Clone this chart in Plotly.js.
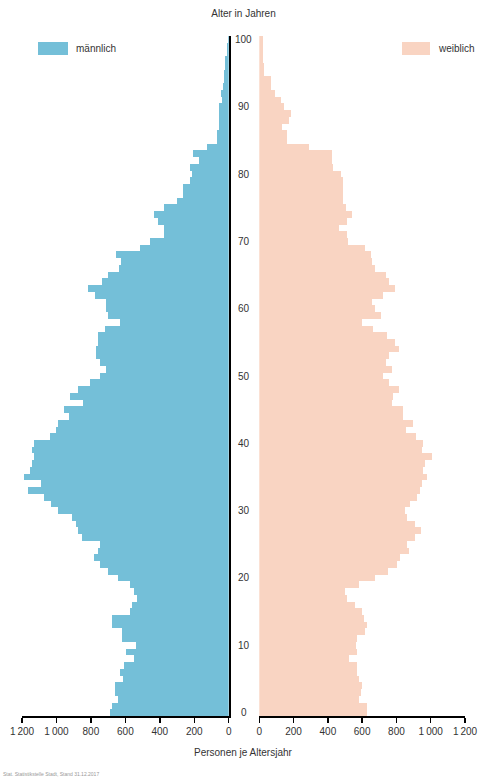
<!DOCTYPE html>
<html>
<head>
<meta charset="utf-8">
<script src="https://cdn.plot.ly/plotly-3.0.1.min.js"></script>
<style>
  html, body { margin: 0; padding: 0; background: #ffffff; }
  #chart { width: 478px; height: 779px; }
</style>
</head>
<body>
<div id="chart"></div>
<script>
// Ages 0..100
const ages = Array.from({length: 101}, (_, i) => i);

// Persons per age year, male (index = age)
const maleValues = [
  688, 678, 643, 663, 663, 614, 630, 610, 550, 595,
  540, 618, 618, 676, 676, 571, 562, 530, 550, 575,
  643, 701, 750, 783, 760, 750, 851, 876, 886, 911,
  993, 1032, 1074, 1168, 1088, 1191, 1154, 1144, 1129, 1144,
  1133, 1040, 1003, 991, 925, 958, 843, 921, 874, 804,
  746, 715, 750, 769, 769, 756, 756, 721, 633, 701,
  715, 715, 779, 818, 734, 698, 637, 624, 653, 517,
  455, 375, 375, 410, 433, 375, 303, 268, 268, 222,
  215, 222, 175, 210, 128, 70, 68, 55, 58, 58,
  58, 41, 47, 35, 27, 27, 20, 19, 10, 8,
  5
];

// Persons per age year, female (index = age)
const femaleValues = [
  626, 626, 584, 591, 597, 584, 568, 568, 525, 568,
  564, 572, 617, 626, 611, 601, 558, 513, 500, 584,
  675, 749, 805, 821, 873, 864, 908, 943, 908, 860,
  850, 879, 922, 938, 947, 980, 957, 967, 1006, 947,
  957, 912, 854, 899, 840, 840, 772, 782, 817, 757,
  724, 772, 737, 759, 817, 792, 747, 665, 597, 710,
  675, 655, 724, 792, 757, 737, 675, 656, 652, 617,
  519, 510, 465, 513, 539, 506, 490, 490, 486, 486,
  477, 432, 422, 422, 290, 163, 163, 130, 173, 183,
  146, 124, 91, 68, 68, 29, 29, 23, 20, 19,
  19
];

// Tick definitions
const xTickVals = [0, 200, 400, 600, 800, 1000, 1200];
const xTickText = ['0', '200', '400', '600', '800', '1\u2009000', '1\u2009200'];
const ageTicks = [0, 10, 20, 30, 40, 50, 60, 70, 80, 90, 100];

const seriesNames = ['männlich', 'weiblich'];
const colMale = '#74bfd8';
const colFemale = '#f9d4c2';

const textColor = '#333333';
const fontFamily = 'Liberation Sans, Arial, Helvetica, sans-serif';

const traces = [
  {
    type: 'bar', orientation: 'h', name: seriesNames[0],
    x: maleValues, y: ages, xaxis: 'x', yaxis: 'y',
    marker: {color: colMale, line: {width: 0}},
    hoverinfo: 'x+y', showlegend: false
  },
  {
    type: 'bar', orientation: 'h', name: seriesNames[1],
    x: femaleValues, y: ages, xaxis: 'x2', yaxis: 'y',
    marker: {color: colFemale, line: {width: 0}},
    hoverinfo: 'x+y', showlegend: false
  }
];

const W = 478, H = 779;
const mL = 22, mR = 13, mT = 36, mB = 63;
const pw = W - mL - mR, ph = H - mT - mB;
const px = v => (v - mL) / pw;          // pixel x -> paper x
const py = v => (H - mB - v) / ph;       // pixel y -> paper y

const xCommon = {
  showline: true, linecolor: '#000', linewidth: 1.5,
  ticks: 'outside', ticklen: 5, tickwidth: 1.5, tickcolor: '#000',
  tickvals: xTickVals, ticktext: xTickText,
  tickfont: {size: 10, color: textColor, family: fontFamily},
  showgrid: false, zeroline: false, fixedrange: true, anchor: 'y'
};

const annotations = ageTicks.map(a => ({
  xref: 'paper', yref: 'y', x: 0.5, y: a, text: String(a),
  showarrow: false, xanchor: 'center', yanchor: 'middle',
  font: {size: 10, color: textColor, family: fontFamily}
}));

annotations.push({
  xref: 'paper', yref: 'paper', x: 0.5, y: py(752), text: 'Personen je Altersjahr',
  showarrow: false, xanchor: 'center', yanchor: 'middle',
  font: {size: 10, color: textColor, family: fontFamily}
});
annotations.push({
  xref: 'paper', yref: 'paper', x: px(74), y: py(48.5), text: seriesNames[0],
  showarrow: false, xanchor: 'left', yanchor: 'middle',
  font: {size: 10, color: textColor, family: fontFamily}
});
annotations.push({
  xref: 'paper', yref: 'paper', x: px(436), y: py(48.5), text: seriesNames[1],
  showarrow: false, xanchor: 'left', yanchor: 'middle',
  font: {size: 10, color: textColor, family: fontFamily}
});
annotations.push({
  xref: 'paper', yref: 'paper', x: px(1), y: py(774), text: 'Stat. Statistikstelle Stadt, Stand 31.12.2017',
  showarrow: false, xanchor: 'left', yanchor: 'middle',
  font: {size: 5, color: '#999999', family: fontFamily}
});

const shapes = [
  {type: 'rect', xref: 'paper', yref: 'paper', x0: px(38), x1: px(68), y0: py(55), y1: py(42),
   fillcolor: colMale, line: {width: 0}},
  {type: 'rect', xref: 'paper', yref: 'paper', x0: px(402), x1: px(430), y0: py(55), y1: py(42),
   fillcolor: colFemale, line: {width: 0}}
];

const layout = {
  width: W, height: H,
  margin: {l: mL, r: mR, t: mT, b: mB, pad: 0},
  paper_bgcolor: '#ffffff', plot_bgcolor: '#ffffff',
  font: {family: fontFamily, size: 10, color: textColor},
  title: {
    text: 'Alter in Jahren', x: 0.5, xref: 'paper', xanchor: 'center',
    y: 1 - 13 / H, yref: 'container', yanchor: 'middle',
    font: {size: 10, color: textColor, family: fontFamily}
  },
  bargap: 0,
  xaxis: Object.assign({}, xCommon, {domain: [0, px(228.7)], range: [1200, 0]}),
  xaxis2: Object.assign({}, xCommon, {domain: [px(259.3), 1], range: [0, 1200]}),
  yaxis: {
    range: [-0.5, 100.5], anchor: 'x', side: 'right',
    showline: true, linecolor: '#000', linewidth: 2,
    showticklabels: false, ticks: '', showgrid: false, zeroline: false, fixedrange: true
  },
  annotations: annotations,
  shapes: shapes,
  showlegend: false
};

Plotly.newPlot('chart', traces, layout, {displayModeBar: false, staticPlot: true});
</script>
</body>
</html>
